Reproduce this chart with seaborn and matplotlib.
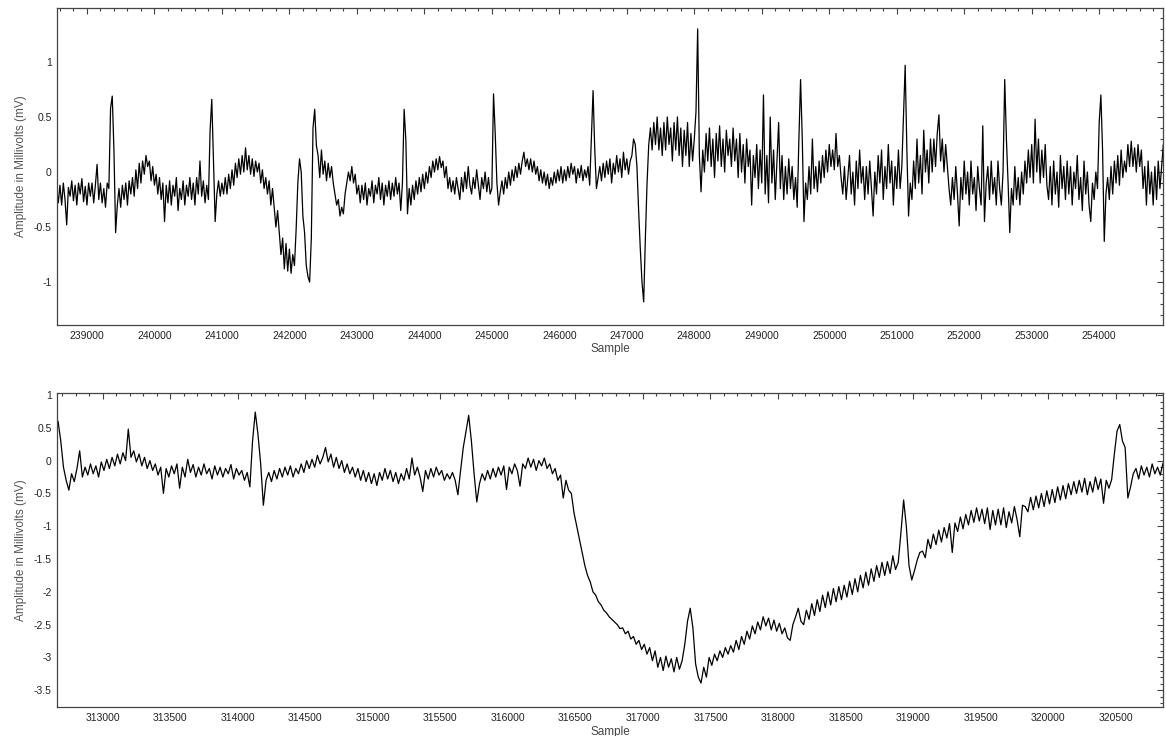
import numpy as np
import pandas as pd
import matplotlib
matplotlib.use("Agg")
import matplotlib.pyplot as plt
import matplotlib.ticker as mticker
import seaborn as sns

# ECG excerpt 1: starts at sample 238550, one value every 25 samples (mV)
top_start = 238550
top_step = 25
top_mv = [
    # 238550
    -0.15, -0.28, -0.12, -0.30, -0.10, -0.25, -0.48, -0.14, -0.22, -0.08,
    -0.26, -0.12, -0.30, -0.10, -0.20, -0.06, -0.27, -0.13, -0.30, -0.10,
    # 239050
    -0.22, -0.10, -0.28, -0.12, 0.07, -0.25, -0.10, -0.28, -0.15, -0.32,
    -0.10, -0.15, 0.58, 0.69, 0.20, -0.55, -0.30, -0.15, -0.32, -0.12,
    # 239550
    -0.25, -0.10, -0.30, -0.08, -0.20, -0.05, -0.22, 0.02, -0.15, 0.08,
    -0.10, 0.10, -0.02, 0.15, 0.05, 0.10, -0.08, 0.05, -0.12, -0.02,
    # 240050
    -0.20, -0.05, -0.25, -0.10, -0.45, -0.12, -0.28, -0.08, -0.30, -0.12,
    -0.22, -0.05, -0.35, -0.15, -0.25, -0.08, -0.30, -0.12, -0.22, -0.05,
    # 240550
    -0.25, -0.10, -0.30, -0.05, -0.20, 0.10, -0.22, -0.08, -0.28, -0.12,
    -0.25, 0.38, 0.66, 0.10, -0.45, -0.20, -0.08, -0.22, -0.10, -0.20,
    # 241050
    -0.05, -0.20, -0.02, -0.15, 0.02, -0.12, 0.08, -0.05, 0.12, -0.02,
    0.15, 0.00, 0.22, 0.02, 0.15, -0.02, 0.12, -0.04, 0.10, 0.00,
    # 241550
    0.08, -0.10, 0.02, -0.15, -0.05, -0.20, -0.08, -0.30, -0.15, -0.32,
    -0.50, -0.35, -0.55, -0.75, -0.60, -0.88, -0.65, -0.90, -0.70, -0.92,
    # 242050
    -0.75, -0.85, -0.52, -0.10, 0.12, 0.00, -0.40, -0.55, -0.85, -0.95,
    -1.00, -0.60, 0.40, 0.57, 0.24, 0.15, -0.05, 0.20, -0.02, 0.10,
    # 242550
    -0.08, 0.08, -0.05, 0.05, -0.10, -0.20, -0.30, -0.25, -0.40, -0.32,
    -0.38, -0.20, -0.10, 0.00, -0.08, 0.05, -0.10, -0.02, -0.20, -0.12,
    # 243050
    -0.28, -0.12, -0.25, -0.10, -0.30, -0.15, -0.22, -0.08, -0.28, -0.12,
    -0.20, -0.05, -0.25, -0.10, -0.30, -0.12, -0.22, -0.08, -0.25, -0.10,
    # 243550
    -0.22, -0.05, -0.20, -0.10, -0.35, -0.10, 0.57, 0.30, -0.38, -0.15,
    -0.30, -0.12, -0.25, -0.08, -0.20, -0.05, -0.18, -0.02, -0.15, 0.00,
    # 244050
    -0.10, 0.05, -0.05, 0.10, 0.00, 0.12, 0.02, 0.14, 0.04, 0.10,
    -0.05, 0.05, -0.15, -0.05, -0.18, -0.08, -0.20, -0.05, -0.15, -0.25,
    # 244550
    -0.05, -0.18, 0.00, -0.15, 0.05, -0.12, -0.20, -0.05, -0.15, 0.02,
    -0.12, -0.25, -0.05, -0.15, 0.00, -0.18, -0.05, -0.20, -0.15, 0.71,
    # 245050
    0.35, -0.10, -0.30, -0.18, -0.08, -0.20, -0.05, -0.15, 0.00, -0.12,
    0.02, -0.08, 0.05, -0.05, 0.08, -0.02, 0.10, 0.18, 0.05, 0.12,
    # 245550
    0.02, 0.12, 0.00, 0.10, -0.02, 0.05, -0.08, 0.02, -0.10, 0.00,
    -0.12, -0.02, -0.15, -0.05, -0.12, 0.00, -0.10, 0.02, -0.08, 0.05,
    # 246050
    -0.10, 0.02, -0.08, 0.05, -0.05, 0.08, -0.02, 0.05, -0.10, 0.03,
    -0.05, 0.06, -0.08, 0.02, -0.05, 0.05, -0.12, 0.30, 0.74, 0.20,
    # 246550
    -0.15, -0.05, 0.05, -0.08, 0.08, -0.05, 0.10, -0.02, 0.12, -0.10,
    0.08, -0.02, 0.15, 0.00, 0.12, -0.05, 0.18, 0.02, 0.12, -0.02,
    # 247050
    0.10, 0.15, 0.30, 0.25, 0.05, -0.35, -0.70, -1.00, -1.18, -0.60,
    -0.10, 0.25, 0.40, 0.20, 0.45, 0.25, 0.50, 0.20, 0.40, 0.15,
    # 247550
    0.45, 0.20, 0.50, 0.25, 0.40, 0.10, 0.45, 0.20, 0.50, 0.15,
    0.40, 0.05, 0.38, 0.15, 0.45, 0.05, 0.35, 0.10, 0.30, 0.55,
    # 248050
    1.30, 0.15, -0.18, 0.20, 0.00, 0.35, 0.10, 0.40, 0.05, 0.30,
    -0.05, 0.35, 0.10, 0.42, 0.05, 0.30, 0.00, 0.38, 0.15, 0.30,
    # 248550
    0.05, 0.40, 0.10, 0.30, -0.05, 0.35, 0.00, 0.25, -0.10, 0.30,
    0.05, 0.20, -0.30, 0.15, -0.05, 0.25, -0.15, 0.20, -0.10, 0.70,
    # 249050
    -0.20, 0.15, -0.28, 0.50, -0.10, 0.20, -0.25, 0.10, 0.45, -0.15,
    0.15, -0.25, 0.05, -0.20, 0.12, -0.15, 0.05, -0.25, -0.05, -0.32,
    # 249550
    0.30, 0.84, 0.30, -0.45, -0.10, -0.25, 0.05, -0.20, 0.30, -0.15,
    0.05, -0.18, 0.10, -0.10, 0.15, -0.05, 0.20, 0.00, 0.25, 0.05,
    # 250050
    0.20, 0.02, 0.35, 0.05, 0.15, -0.05, -0.20, 0.05, -0.25, -0.05,
    0.15, -0.20, 0.00, -0.30, 0.10, -0.15, 0.20, -0.10, 0.05, -0.25,
    # 250550
    0.05, -0.20, 0.10, -0.15, -0.40, 0.00, -0.20, 0.15, -0.10, 0.20,
    -0.25, 0.05, -0.15, 0.25, -0.10, 0.10, -0.30, 0.05, -0.15, 0.20,
    # 251050
    -0.15, 0.05, 0.50, 0.97, 0.20, -0.40, -0.10, -0.25, 0.10, -0.15,
    0.30, -0.10, 0.15, -0.20, 0.38, 0.00, 0.20, -0.10, 0.30, 0.00,
    # 251550
    0.30, 0.05, 0.35, 0.52, 0.10, 0.30, 0.00, 0.25, 0.05, -0.15,
    -0.30, -0.05, -0.25, 0.05, -0.20, -0.49, -0.05, -0.25, 0.10, -0.20,
    # 252050
    0.00, -0.30, 0.10, -0.20, -0.05, -0.35, 0.05, -0.15, -0.30, 0.42,
    -0.45, -0.10, 0.05, -0.25, 0.10, -0.20, -0.05, -0.30, 0.10, -0.15,
    # 252550
    -0.30, 0.00, 0.84, 0.30, -0.10, -0.55, -0.15, -0.30, 0.05, -0.25,
    -0.05, -0.30, 0.00, -0.20, 0.10, -0.10, 0.20, -0.05, 0.25, -0.10,
    # 253050
    0.48, 0.00, 0.30, -0.10, 0.20, -0.05, 0.25, -0.12, -0.25, 0.05,
    -0.30, 0.10, -0.20, 0.00, -0.32, 0.15, -0.15, 0.05, -0.25, 0.10,
    # 253550
    -0.20, 0.05, -0.30, 0.00, -0.15, 0.15, -0.25, -0.05, -0.35, 0.10,
    -0.20, 0.00, -0.30, -0.45, -0.10, -0.25, 0.00, -0.15, 0.45, 0.70,
    # 254050
    0.20, -0.63, -0.20, -0.05, -0.25, 0.05, -0.20, 0.10, -0.10, 0.15,
    -0.12, 0.20, -0.05, 0.10, 0.00, 0.25, 0.05, 0.28, 0.05, 0.22,
    # 254550
    0.00, 0.25, 0.05, 0.20, -0.15, 0.05, -0.30, 0.10, -0.20, 0.00,
    -0.30, 0.05, -0.25, 0.10, -0.15, 0.05, 0.25,
]

# ECG excerpt 2: starts at sample 312650, one value every 20 samples (mV)
bottom_start = 312650
bottom_step = 20
bottom_mv = [
    # 312650
    0.45, 0.60, 0.30, -0.10, -0.30, -0.45, -0.20, -0.32, -0.12, 0.15,
    -0.25, -0.10, -0.22, -0.05, -0.20, -0.08, -0.25, -0.02, -0.15, 0.02,
    -0.12, 0.05, -0.08, 0.10, -0.05,
    # 313150
    0.12, 0.00, 0.48, 0.05, 0.15, -0.02, 0.10, -0.08, 0.05, -0.12,
    0.00, -0.15, -0.05, -0.22, -0.10, -0.50, -0.12, -0.25, -0.08, -0.20,
    -0.05, -0.42, -0.10, -0.25, 0.02,
    # 313650
    -0.18, -0.06, -0.25, -0.10, -0.22, -0.05, -0.20, -0.12, -0.28, -0.08,
    -0.22, -0.10, -0.25, -0.12, -0.20, -0.06, -0.28, -0.12, -0.22, -0.15,
    -0.30, -0.18, -0.40, 0.30, 0.74,
    # 314150
    0.40, -0.05, -0.68, -0.30, -0.18, -0.32, -0.15, -0.28, -0.12, -0.25,
    -0.10, -0.22, -0.08, -0.25, -0.12, -0.20, -0.05, -0.18, 0.00, -0.12,
    0.02, -0.10, 0.08, -0.05, 0.05,
    # 314650
    0.20, -0.02, 0.10, -0.10, 0.05, -0.12, 0.00, -0.18, -0.05, -0.20,
    -0.10, -0.25, -0.12, -0.30, -0.15, -0.32, -0.18, -0.35, -0.20, -0.38,
    -0.18, -0.30, -0.12, -0.28, -0.15,
    # 315150
    -0.32, -0.18, -0.35, -0.20, -0.30, -0.12, -0.28, 0.04, -0.22, -0.10,
    -0.25, -0.47, -0.15, -0.28, -0.12, -0.25, -0.10, -0.22, -0.15, -0.30,
    -0.20, -0.28, -0.18, -0.30, -0.52,
    # 315650
    -0.15, 0.20, 0.45, 0.69, 0.30, -0.20, -0.63, -0.35, -0.20, -0.30,
    -0.15, -0.28, -0.12, -0.25, -0.10, -0.22, -0.08, -0.44, -0.10, -0.20,
    -0.05, -0.15, -0.39, -0.05, -0.12,
    # 316150
    0.04, -0.10, 0.02, -0.15, 0.00, -0.08, 0.04, -0.12, -0.05, -0.20,
    -0.12, -0.30, -0.22, -0.57, -0.30, -0.45, -0.50, -0.80, -1.00, -1.20,
    -1.40, -1.60, -1.75, -1.85, -2.00,
    # 316650
    -2.05, -2.15, -2.20, -2.28, -2.32, -2.38, -2.42, -2.46, -2.50, -2.56,
    -2.55, -2.64, -2.60, -2.72, -2.68, -2.80, -2.74, -2.88, -2.80, -2.95,
    -2.85, -3.05, -2.90, -3.15, -3.00,
    # 317150
    -3.20, -2.98, -3.15, -3.02, -3.22, -3.00, -3.18, -3.05, -2.80, -2.45,
    -2.25, -2.55, -3.10, -3.30, -3.39, -3.15, -3.30, -3.00, -3.12, -2.95,
    -3.05, -2.90, -3.00, -2.85, -2.95,
    # 317650
    -2.82, -2.92, -2.74, -2.88, -2.68, -2.80, -2.60, -2.72, -2.52, -2.64,
    -2.46, -2.58, -2.38, -2.52, -2.40, -2.58, -2.43, -2.60, -2.48, -2.64,
    -2.55, -2.70, -2.74, -2.50, -2.38,
    # 318150
    -2.25, -2.45, -2.50, -2.28, -2.42, -2.18, -2.36, -2.12, -2.30, -2.05,
    -2.24, -2.00, -2.20, -1.95, -2.15, -1.92, -2.12, -1.90, -2.08, -1.84,
    -2.04, -1.80, -2.00, -1.75, -1.94,
    # 318650
    -1.70, -1.90, -1.65, -1.84, -1.60, -1.78, -1.55, -1.75, -1.54, -1.72,
    -1.45, -1.66, -1.55, -1.10, -0.60, -1.00, -1.60, -1.82, -1.68, -1.52,
    -1.40, -1.38, -1.48, -1.20, -1.34,
    # 319150
    -1.12, -1.28, -1.06, -1.24, -1.02, -1.18, -0.96, -1.40, -0.95, -1.08,
    -0.86, -1.04, -0.82, -0.98, -0.76, -0.94, -0.72, -0.92, -0.74, -0.96,
    -0.72, -1.05, -0.76, -0.98, -0.74,
    # 319650
    -0.98, -0.72, -1.02, -0.78, -0.95, -0.70, -0.90, -1.16, -0.68, -0.70,
    -0.78, -0.56, -0.75, -0.54, -0.72, -0.50, -0.70, -0.46, -0.66, -0.44,
    -0.64, -0.40, -0.60, -0.38, -0.58,
    # 320150
    -0.35, -0.52, -0.32, -0.50, -0.30, -0.48, -0.27, -0.52, -0.32, -0.48,
    -0.25, -0.44, -0.28, -0.65, -0.30, -0.42, -0.29, 0.10, 0.45, 0.55,
    0.30, 0.20, -0.57, -0.40, -0.20,
    # 320650
    -0.12, -0.28, -0.08, -0.22, -0.10, -0.25, -0.05, -0.20, -0.10, -0.22,
    -0.04,
]

top_df = pd.DataFrame({
    "Sample": top_start + top_step * np.arange(len(top_mv)),
    "mV": top_mv,
})
bottom_df = pd.DataFrame({
    "Sample": bottom_start + bottom_step * np.arange(len(bottom_mv)),
    "mV": bottom_mv,
})

sns.set_style("white")
plt.rcParams["font.family"] = ["Liberation Sans", "DejaVu Sans"]
plt.rcParams["axes.unicode_minus"] = False

fig = plt.figure(figsize=(11.66, 7.36), dpi=100)
ax_top = fig.add_axes([0.0491, 0.5584, 0.9483, 0.4307])
ax_bot = fig.add_axes([0.0491, 0.0390, 0.9483, 0.4274])

panels = [
    (ax_top, top_df, (238560, 254945), (-1.39, 1.49), 1000, 200),
    (ax_bot, bottom_df, (312664, 320850), (-3.76, 1.035), 500, 100),
]

for ax, df, xlim, ylim, xmaj, xmin in panels:
    sns.lineplot(data=df, x="Sample", y="mV", ax=ax, color="black",
                 linewidth=0.9, sort=False)
    ax.set_xlim(*xlim)
    ax.set_ylim(*ylim)
    ax.xaxis.set_major_locator(mticker.MultipleLocator(xmaj))
    ax.xaxis.set_minor_locator(mticker.MultipleLocator(xmin))
    ax.yaxis.set_major_locator(mticker.MultipleLocator(0.5))
    ax.yaxis.set_minor_locator(mticker.MultipleLocator(0.1))
    ax.xaxis.set_major_formatter(mticker.FuncFormatter(lambda v, p: "%d" % v))
    ax.yaxis.set_major_formatter(mticker.FuncFormatter(lambda v, p: "%g" % v))
    ax.tick_params(which="both", direction="in", top=True, right=True,
                   color="#444444", width=0.8, labelsize=7.5,
                   labelcolor="#222222")
    ax.tick_params(which="major", length=4, pad=4)
    ax.tick_params(which="minor", length=2)
    for sp in ax.spines.values():
        sp.set_color("#444444")
        sp.set_linewidth(0.9)
    ax.set_xlabel("Sample", fontsize=8.5, color="#444444")
    ax.set_ylabel("Amplitude in Millivolts (mV)", fontsize=8.5, color="#555555")
    ax.yaxis.set_label_coords(-0.027, 0.5)
    ax.xaxis.labelpad = 2

fig.savefig("out.png", dpi=100, facecolor="white")
